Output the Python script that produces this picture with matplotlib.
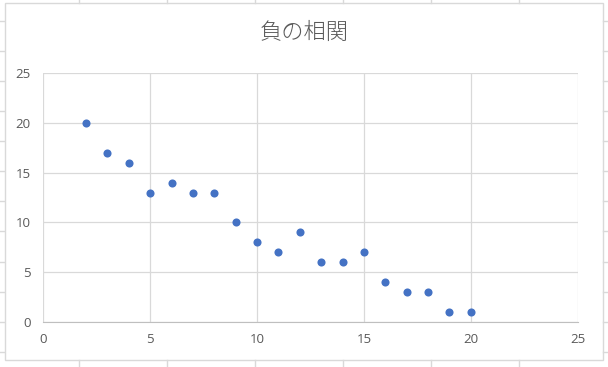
import matplotlib
matplotlib.use("Agg")
from matplotlib import pyplot as plt
from matplotlib.lines import Line2D
from matplotlib.patches import Rectangle

plt.rcParams['font.family'] = ['Open Sans', 'DejaVu Sans']

TITLE = "負の相関"
x_vals = [2, 3, 4, 5, 6, 7, 8, 9, 10, 11, 12, 13, 14, 15, 16, 17, 18, 19, 20]
y_vals = [20, 17, 16, 13, 14, 13, 13, 10, 8, 7, 9, 6, 6, 7, 4, 3, 3, 1, 1]
ticks = [0, 5, 10, 15, 20, 25]

W, H = 608, 367
GRID = '#d9d9d9'
TEXT = '#595959'
BLUE = '#4472c4'

fig = plt.figure(figsize=(W / 100, H / 100), dpi=100)

# spreadsheet cell lines peeking out around the chart
def px_line(x0, y0, x1, y1):
    fig.add_artist(Line2D([x0 / W, x1 / W], [1 - y0 / H, 1 - y1 / H],
                          transform=fig.transFigure, color=GRID, lw=1))

for cx in [79, 167, 255, 343, 431, 519]:
    px_line(cx, 0, cx, 2.5)
    px_line(cx, 360, cx, H)
for ry in [21, 51, 81, 111, 141, 171, 201, 231, 262, 292, 322, 352]:
    px_line(0, ry, 4, ry)
    px_line(603, ry, W, ry)

# chart border
fig.add_artist(Rectangle((4.5 / W, 1 - 360 / H), (603 - 4.5) / W, (360 - 2.5) / H,
                         transform=fig.transFigure, fill=False, ec=GRID, lw=1))

ax = fig.add_axes([43.3 / W, 1 - 322 / H, (577.7 - 43.3) / W, (322 - 73) / H])
ax.scatter(x_vals, y_vals, s=34, color=BLUE, zorder=3, linewidths=0)

ax.set_xlim(0, 25)
ax.set_ylim(0, 25)
ax.set_xticks(ticks)
ax.set_yticks(ticks)
ax.grid(True, color=GRID, lw=0.9)
ax.set_axisbelow(True)
for side in ['top', 'right', 'left']:
    ax.spines[side].set_visible(False)
ax.spines['bottom'].set_color('#bfbfbf')
ax.tick_params(length=0, labelsize=9.5, labelcolor=TEXT)
ax.tick_params(axis='y', pad=9)
ax.tick_params(axis='x', pad=8)

fig.text(0.5, 1 - 33 / H, TITLE, ha='center', va='center', fontsize=16,
         color=TEXT, family=['Noto Sans CJK JP', 'DejaVu Sans'], fontweight='light')

fig.savefig("out.png", dpi=100)
